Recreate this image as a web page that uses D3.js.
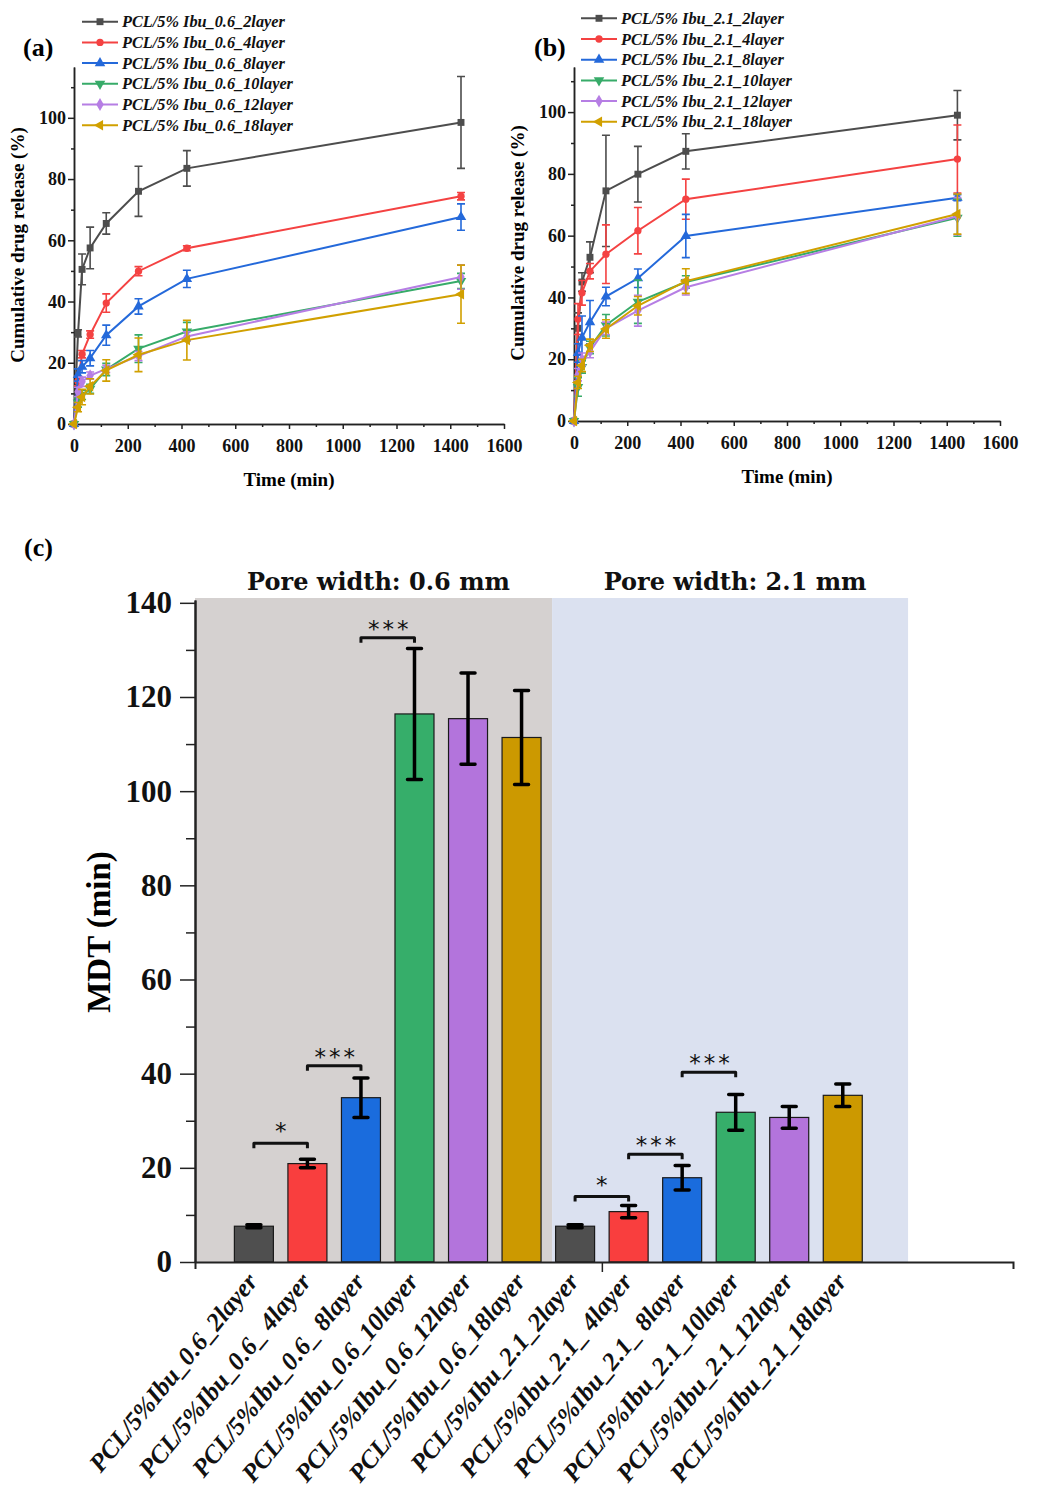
<!DOCTYPE html>
<html>
<head>
<meta charset="utf-8">
<script src="https://cdn.jsdelivr.net/npm/d3@7"></script>
<style>
  body { margin: 0; background: #fff; }
</style>
</head>
<body>
<svg id="chart" width="1040" height="1496" font-family="'Times New Roman', 'Liberation Serif', serif"></svg>
<script>
// ---- data ----
const timePts = [0, 15, 30, 60, 120, 240, 420, 1440];
const timeTicks = [0, 200, 400, 600, 800, 1000, 1200, 1400, 1600];
const releaseTicks = [0, 20, 40, 60, 80, 100];

const namesA = ['PCL/5% Ibu_0.6_2layer', 'PCL/5% Ibu_0.6_4layer', 'PCL/5% Ibu_0.6_8layer',
                'PCL/5% Ibu_0.6_10layer', 'PCL/5% Ibu_0.6_12layer', 'PCL/5% Ibu_0.6_18layer'];
const namesB = ['PCL/5% Ibu_2.1_2layer', 'PCL/5% Ibu_2.1_4layer', 'PCL/5% Ibu_2.1_8layer',
                'PCL/5% Ibu_2.1_10layer', 'PCL/5% Ibu_2.1_12layer', 'PCL/5% Ibu_2.1_18layer'];

// cumulative release (%) for pore width 0.6 mm
const meansA = [
  [0, 29.6, 50.5, 57.5, 65.5, 76.0, 83.5, 98.5],
  [0, 14.0, 22.8, 29.2, 39.5, 49.9, 57.4, 74.4],
  [0, 16.0, 18.7, 21.5, 29.0, 38.4, 47.4, 67.6],
  [0, 7.0, 9.5, 11.5, 17.8, 24.6, 30.2, 46.7],
  [0, 10.5, 13.8, 15.8, 18.0, 22.2, 28.6, 48.0],
  [0, 5.5, 8.8, 12.3, 17.5, 22.6, 27.4, 42.4]
];
const errsA = [
  [0, 1.2, 5.0, 6.8, 3.5, 8.2, 5.8, 15.0],
  [0, 1.5, 1.2, 1.2, 3.0, 1.5, 0.8, 1.2],
  [0, 2.0, 2.0, 2.5, 3.3, 2.5, 2.8, 4.3],
  [0, 1.5, 1.5, 1.5, 2.0, 4.5, 3.0, 2.5],
  [0, 1.5, 1.5, 1.2, 1.2, 1.5, 1.5, 4.0],
  [0, 1.5, 2.5, 2.5, 3.5, 5.5, 6.5, 9.5]
];
// cumulative release (%) for pore width 2.1 mm
const meansB = [
  [0, 30.0, 45.0, 53.0, 74.5, 79.9, 87.3, 99.0],
  [0, 33.0, 41.5, 48.5, 54.0, 61.6, 71.8, 84.8],
  [0, 22.0, 27.0, 32.0, 40.3, 46.2, 59.9, 72.3],
  [0, 11.0, 17.5, 23.8, 31.0, 38.6, 45.0, 65.8],
  [0, 15.0, 20.0, 22.5, 30.0, 35.7, 43.3, 66.3],
  [0, 12.5, 18.0, 24.5, 29.8, 37.3, 45.3, 67.0]
];
const errsB = [
  [0, 5.0, 3.0, 5.0, 18.0, 9.0, 5.7, 8.0],
  [0, 5.0, 4.0, 2.5, 9.5, 7.5, 6.5, 11.0],
  [0, 3.0, 7.0, 7.0, 3.0, 3.0, 7.0, 1.0],
  [0, 3.0, 2.0, 2.0, 3.5, 7.0, 2.0, 6.0],
  [0, 2.0, 2.0, 2.0, 2.0, 5.0, 2.5, 6.0],
  [0, 2.0, 2.0, 2.0, 3.0, 3.0, 4.0, 6.5]
];

// MDT bar chart
const barLabels = ['PCL/5%Ibu_0.6_2layer', 'PCL/5%Ibu_0.6_ 4layer', 'PCL/5%Ibu_0.6_ 8layer',
                   'PCL/5%Ibu_0.6_10layer', 'PCL/5%Ibu_0.6_12layer', 'PCL/5%Ibu_0.6_18layer',
                   'PCL/5%Ibu_2.1_2layer', 'PCL/5%Ibu_2.1_ 4layer', 'PCL/5%Ibu_2.1_ 8layer',
                   'PCL/5%Ibu_2.1_10layer', 'PCL/5%Ibu_2.1_12layer', 'PCL/5%Ibu_2.1_18layer'];
const mdtValues = [7.6, 20.9, 34.9, 116.4, 115.4, 111.4, 7.6, 10.7, 17.9, 31.8, 30.7, 35.4];
const mdtErrors = [0.3, 0.9, 4.2, 13.9, 9.7, 10.0, 0.3, 1.3, 2.6, 3.8, 2.3, 2.4];
const mdtTicks = [0, 20, 40, 60, 80, 100, 120, 140];
const groupTitles = ['Pore width: 0.6 mm', 'Pore width: 2.1 mm'];
// [from bar, to bar, label, bracket height]
const sigPairs = [[0, 1, '*', 25.2], [1, 2, '***', 41.7], [2, 3, '***', 132.6],
                  [6, 7, '*', 13.9], [7, 8, '***', 22.9], [8, 9, '***', 40.3]];

const lineColors = ['#4d4d4d', '#f44242', '#2469da', '#37ab69', '#b67ee4', '#d1a000'];
const barColors = ['#4f4f4f', '#f93e3e', '#1a6cdd', '#36ae6a', '#b374dc', '#cc9900'];
const symbols = [
  {type: d3.symbolSquare, rot: 0}, {type: d3.symbolCircle, rot: 0},
  {type: d3.symbolTriangle, rot: 0}, {type: d3.symbolTriangle, rot: 180},
  {type: d3.symbolDiamond, rot: 0}, {type: d3.symbolTriangle, rot: -90}
];
const serif = "'Times New Roman', 'Liberation Serif', serif";

const svg = d3.select('#chart');
svg.append('rect').attr('width', 1040).attr('height', 1496).attr('fill', '#fff');

const styleAxis = (sel, fs) => {
  sel.attr('font-family', serif);
  sel.selectAll('.domain').attr('stroke', '#222').attr('stroke-width', 1.5);
  sel.selectAll('.tick line').attr('stroke', '#222').attr('stroke-width', 1.5);
  sel.selectAll('.tick text').attr('font-size', fs).attr('font-weight', 'bold').attr('fill', '#111');
};

function drawRelease(p) {
  const g = svg.append('g');
  const x = d3.scaleLinear().domain([0, 1600]).range([p.left, p.right]);
  const y = d3.scaleLinear().domain([0, p.yMax]).range([p.bottom, p.top]);

  // minor ticks
  g.append('g').attr('transform', `translate(0,${p.bottom})`)
    .call(d3.axisBottom(x).tickValues(d3.range(100, 1600, 200)).tickSize(3).tickSizeOuter(0).tickFormat(''))
    .call(s => styleAxis(s, 18));
  g.append('g').attr('transform', `translate(${p.left},0)`)
    .call(d3.axisLeft(y).tickValues([10, 30, 50, 70, 90, 110]).tickSize(3).tickSizeOuter(0).tickFormat(''))
    .call(s => styleAxis(s, 18));

  g.append('g').attr('transform', `translate(0,${p.bottom})`)
    .call(d3.axisBottom(x).tickValues(timeTicks).tickSize(5).tickSizeOuter(0).tickPadding(10)
      .tickFormat(d3.format('d')))
    .call(s => styleAxis(s, 18));
  g.append('g').attr('transform', `translate(${p.left},0)`)
    .call(d3.axisLeft(y).tickValues(releaseTicks).tickSize(6).tickSizeOuter(0).tickPadding(2))
    .call(s => styleAxis(s, 18));

  g.append('text').attr('x', (p.left + p.right) / 2).attr('y', p.bottom + 62)
    .attr('text-anchor', 'middle').attr('font-size', 19).attr('font-weight', 'bold').text('Time (min)');
  g.append('text').attr('transform', `translate(${p.yTitleX},${p.yTitleY}) rotate(-90)`)
    .attr('text-anchor', 'middle').attr('font-size', 19).attr('font-weight', 'bold')
    .text('Cumulative drug release (%)');
  g.append('text').attr('x', p.tagX).attr('y', p.tagY)
    .attr('font-size', 26).attr('font-weight', 'bold').text(p.tag);

  const line = d3.line().x((d, i) => x(timePts[i])).y(d => y(d));
  p.means.forEach((m, k) => {
    const s = g.append('g');
    s.append('path').attr('d', line(m)).attr('fill', 'none')
      .attr('stroke', lineColors[k]).attr('stroke-width', 2);
    m.forEach((v, i) => {
      const e = p.errs[k][i];
      if (e <= 0) return;
      const cx = x(timePts[i]);
      s.append('path')
        .attr('d', `M${cx - 4},${y(v + e)}H${cx + 4}M${cx},${y(v + e)}V${y(v - e)}M${cx - 4},${y(v - e)}H${cx + 4}`)
        .attr('stroke', lineColors[k]).attr('stroke-width', 1.6).attr('fill', 'none');
    });
    s.selectAll('path.mk').data(m).join('path').attr('class', 'mk')
      .attr('d', d3.symbol().type(symbols[k].type).size(k === 1 ? 42 : 48))
      .attr('transform', (d, i) => `translate(${x(timePts[i])},${y(d)}) rotate(${symbols[k].rot})`)
      .attr('fill', lineColors[k]);
  });

  // legend
  p.names.forEach((n, k) => {
    const ly = p.legY + k * 20.7;
    g.append('line').attr('x1', p.legX).attr('x2', p.legX + 36).attr('y1', ly).attr('y2', ly)
      .attr('stroke', lineColors[k]).attr('stroke-width', 2);
    g.append('path').attr('d', d3.symbol().type(symbols[k].type).size(k === 1 ? 42 : 48))
      .attr('transform', `translate(${p.legX + 18},${ly}) rotate(${symbols[k].rot})`)
      .attr('fill', lineColors[k]);
    g.append('text').attr('x', p.legX + 40).attr('y', ly + 5.5)
      .attr('font-size', 16.3).attr('font-weight', 'bold').attr('font-style', 'italic')
      .attr('fill', '#111').text(n);
  });
}

drawRelease({left: 74, right: 504, bottom: 424, top: 67, yMax: 116.6, means: meansA, errs: errsA,
  names: namesA, tag: '(a)', tagX: 23, tagY: 56, legX: 82, legY: 21.7, yTitleX: 24, yTitleY: 245});
drawRelease({left: 574, right: 1000, bottom: 421, top: 67, yMax: 114.6, means: meansB, errs: errsB,
  names: namesB, tag: '(b)', tagX: 534, tagY: 56, legX: 581, legY: 18.3, yTitleX: 524, yTitleY: 243});

// ---- panel (c) ----
const gc = svg.append('g');
const xc = d3.scaleLinear().domain([-1.1, 14.18]).range([195, 1013]);
const yc = d3.scaleLinear().domain([0, 140.6]).range([1262, 600]);
const barW = 39;

const bands = [
  {from: -1.1, to: 5.57, fill: '#d5d1d0'},
  {from: 5.57, to: 12.22, fill: '#dbe1f0'}
];
bands.forEach((b, i) => {
  gc.append('rect').attr('x', xc(b.from)).attr('y', yc(140.6) - 2)
    .attr('width', xc(b.to) - xc(b.from)).attr('height', yc(0) - yc(140.6) + 2).attr('fill', b.fill);
  gc.append('text').attr('x', (xc(b.from) + xc(b.to)) / 2 + 5).attr('y', 590)
    .attr('text-anchor', 'middle').attr('font-size', 24).attr('font-weight', 'bold')
    .attr('font-family', "'DejaVu Serif', serif").attr('fill', '#111').text(groupTitles[i]);
});

gc.selectAll('rect.bar').data(mdtValues).join('rect').attr('class', 'bar')
  .attr('x', (d, i) => xc(i) - barW / 2).attr('y', d => yc(d))
  .attr('width', barW).attr('height', d => yc(0) - yc(d))
  .attr('fill', (d, i) => barColors[i % 6]).attr('stroke', '#1a1a1a').attr('stroke-width', 1.2);

mdtValues.forEach((v, i) => {
  const e = mdtErrors[i], cx = xc(i);
  gc.append('path')
    .attr('d', `M${cx - 7},${yc(v + e)}H${cx + 7}M${cx},${yc(v + e)}V${yc(v - e)}M${cx - 7},${yc(v - e)}H${cx + 7}`)
    .attr('stroke', '#000').attr('stroke-width', 3.5).attr('stroke-linecap', 'round').attr('fill', 'none');
});

sigPairs.forEach(([a, b, lab, h]) => {
  const by = yc(h), x1 = xc(a), x2 = xc(b);
  gc.append('path').attr('d', `M${x1},${by + 5}V${by}H${x2}V${by + 5}`)
    .attr('stroke', '#111').attr('stroke-width', 3).attr('fill', 'none').attr('stroke-linejoin', 'round');
  gc.append('text').attr('x', (x1 + x2) / 2 + (lab.length > 1 ? 2 : 0)).attr('y', by - (lab.length > 1 ? 1 : 4))
    .attr('text-anchor', 'middle').attr('font-family', "'DejaVu Sans', sans-serif")
    .attr('font-size', 23).attr('letter-spacing', lab.length > 1 ? 3 : 0).attr('fill', '#111').text(lab);
});

gc.append('g').attr('transform', 'translate(195,0)')
  .call(d3.axisLeft(yc).tickValues(d3.range(10, 140, 20)).tickSize(9).tickSizeOuter(0).tickFormat(''))
  .call(s => styleAxis(s, 31));
gc.append('g').attr('transform', 'translate(195,0)')
  .call(d3.axisLeft(yc).tickValues(mdtTicks).tickSize(15).tickSizeOuter(0).tickPadding(8))
  .call(s => styleAxis(s, 31));
gc.append('g').attr('transform', 'translate(0,1262)')
  .call(d3.axisBottom(xc).tickValues([6.5]).tickSize(10).tickSizeOuter(7).tickFormat(''))
  .call(s => styleAxis(s, 20));
gc.selectAll('.domain').attr('stroke-width', 2);

gc.selectAll('text.xl').data(barLabels).join('text').attr('class', 'xl')
  .attr('transform', (d, i) => `translate(${xc(i) + 5},${1282}) rotate(-50.5)`)
  .attr('text-anchor', 'end').attr('font-size', 25.5).attr('font-weight', 'bold')
  .attr('font-style', 'italic').attr('fill', '#111').text(d => d);

gc.append('text').attr('transform', 'translate(110,932) rotate(-90)')
  .attr('text-anchor', 'middle').attr('font-size', 33).attr('font-weight', 'bold').text('MDT (min)');
gc.append('text').attr('x', 24).attr('y', 556).attr('font-size', 26).attr('font-weight', 'bold').text('(c)');
</script>
</body>
</html>
